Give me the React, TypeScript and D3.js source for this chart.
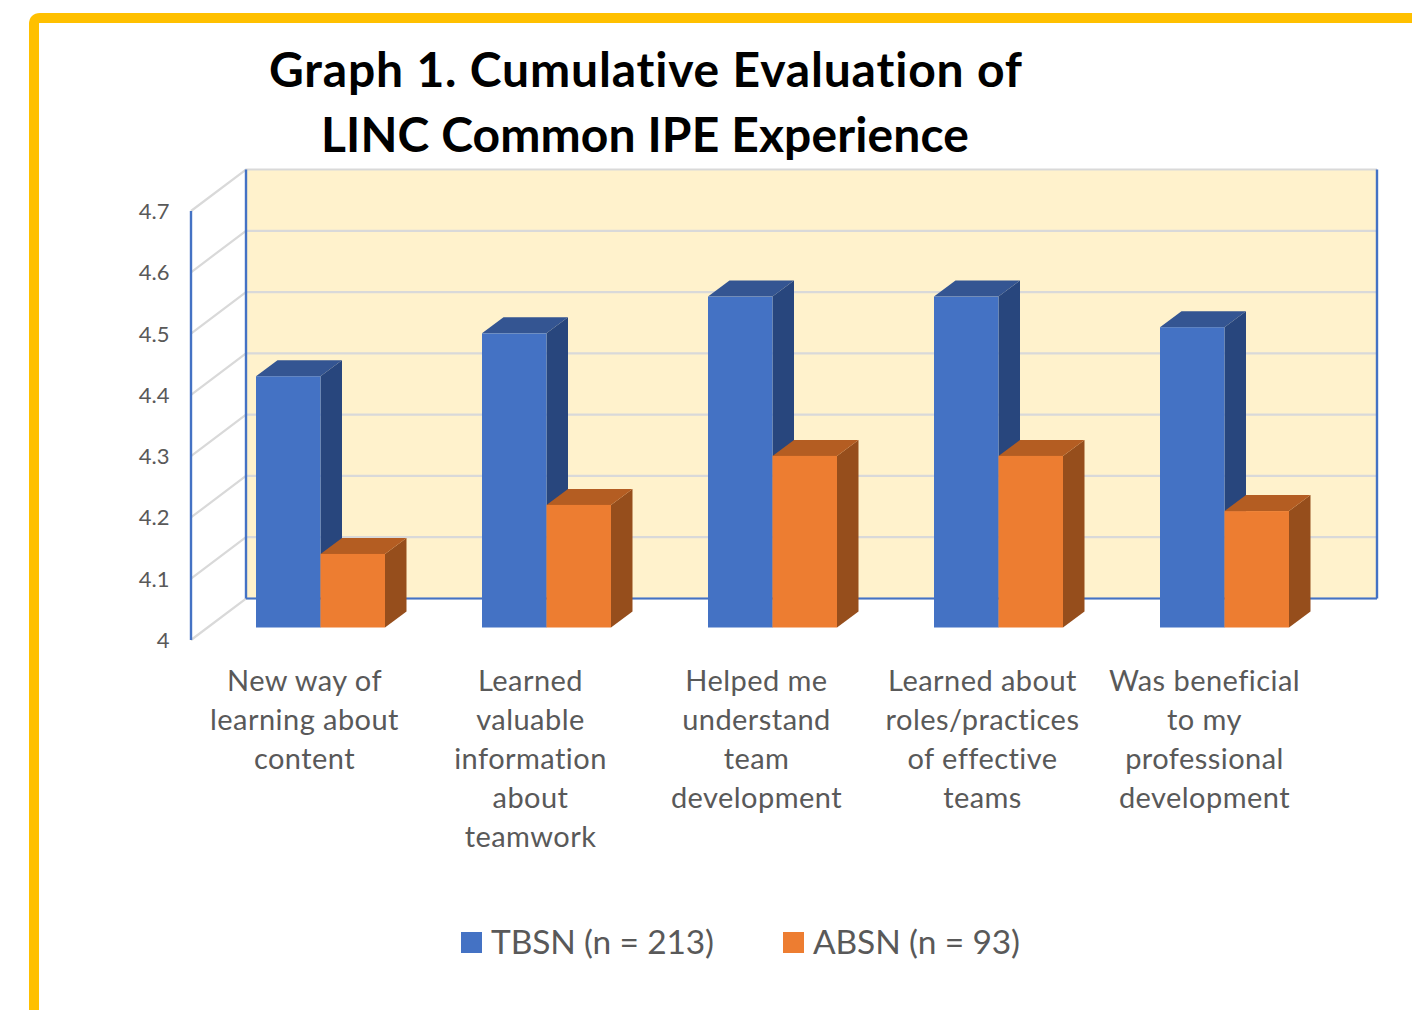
import React from "react";
import * as d3 from "d3";

const titleLines = ["Graph 1. Cumulative Evaluation of", "LINC Common IPE Experience"];
const categories = ["New way of learning", "Learned valuable", "Helped me", "Learned about", "Was beneficial"];
const categoryLabels = [
  ["New way of", "learning about", "content"],
  ["Learned", "valuable", "information", "about", "teamwork"],
  ["Helped me", "understand", "team", "development"],
  ["Learned about", "roles/practices", "of effective", "teams"],
  ["Was beneficial", "to my", "professional", "development"],
];
const labelNudge = [0, 0, 0, 0, -4];
const tbsn = [4.41, 4.48, 4.54, 4.54, 4.49];
const absn = [4.12, 4.2, 4.28, 4.28, 4.19];
const ticks = [4, 4.1, 4.2, 4.3, 4.4, 4.5, 4.6, 4.7];
const seriesNames = ["TBSN (n = 213)", "ABSN (n = 93)"];

const FONT = "Lato, 'Open Sans', sans-serif";
const BLUE = { front: "#4472C4", top: "#345592", side: "#28467D" };
const ORANGE = { front: "#ED7D31", top: "#B45D22", side: "#964E1C" };
const GRID = "#D9D9D9";
const AXIS = "#4472C4";
const TEXT = "#595959";

const y = d3.scaleLinear().domain([4, 4.7]).range([640, 211]);
const DX = 55;
const DY = -41.5;
const RIGHT = 1377;
const band = d3.scaleBand<string>().domain(categories).range([256, 256 + 226 * 5]).paddingInner(0).paddingOuter(0);
const BAR_W = 64.5;
const BAR_DX = 21.5;
const BAR_DY = -16;
const barBase = 627.5;
const barScale = d3.scaleLinear().domain([4, 4.7]).range([barBase, barBase - (y(4) - y(4.7))]);

function Bar({ x, v, c }: { x: number; v: number; c: typeof BLUE }) {
  const t = barScale(v);
  const r = x + BAR_W;
  return (
    <g>
      <path d={`M${r},${t}L${r + BAR_DX},${t + BAR_DY}L${r + BAR_DX},${barBase + BAR_DY}L${r},${barBase}Z`} fill={c.side} />
      <path d={`M${x},${t}L${x + BAR_DX},${t + BAR_DY}L${r + BAR_DX},${t + BAR_DY}L${r},${t}Z`} fill={c.top} />
      <rect x={x} y={t} width={BAR_W} height={barBase - t} fill={c.front} />
    </g>
  );
}

export default function App() {
  return (
    <svg width={1412} height={1010} style={{ position: "absolute", left: 0, top: 0, background: "#fff", fontVariantLigatures: "none" }} fontFamily={FONT}>
      <path d="M34,1010V24Q34,18 40,18H1412" fill="none" stroke="#FFC000" strokeWidth={10} />
      <g fontWeight={700} fontSize={48} fill="#000" textAnchor="middle">
        <text x={645.5} y={87} textLength={753} lengthAdjust="spacing">{titleLines[0]}</text>
        <text x={645} y={152} textLength={648} lengthAdjust="spacing">{titleLines[1]}</text>
      </g>

      <rect x={191 + DX} y={y(4.7) + DY} width={RIGHT - 191 - DX} height={y(4) - y(4.7)} fill="#FFF2CC" />
      {ticks.map((t) => (
        <path key={t} d={`M191,${y(t)}L${191 + DX},${y(t) + DY}H${RIGHT}`} fill="none" stroke={GRID} strokeWidth={2.2} />
      ))}
      <path d={`M${191 + DX},${y(4) + DY}H${RIGHT}`} stroke={AXIS} strokeWidth={2.2} fill="none" />
      <path d={`M191,${y(4.7)}V${y(4)}`} stroke={AXIS} strokeWidth={2.4} fill="none" />
      <path d={`M${191 + DX},${y(4.7) + DY}V${y(4) + DY}`} stroke={AXIS} strokeWidth={2.4} fill="none" />
      <path d={`M${RIGHT},${y(4.7) + DY}V${y(4) + DY}`} stroke={AXIS} strokeWidth={2.4} fill="none" />

      {categories.map((c, i) => {
        const x = band(c)!;
        return (
          <g key={c}>
            <Bar x={x} v={tbsn[i]} c={BLUE} />
            <Bar x={x + BAR_W} v={absn[i]} c={ORANGE} />
          </g>
        );
      })}

      <g fontSize={22} fill={TEXT} textAnchor="end">
        {ticks.map((t) => (
          <text key={t} x={169.5} y={y(t) + 8}>{t === 4 ? "4" : d3.format(".1f")(t)}</text>
        ))}
      </g>

      <g fontSize={29} fill={TEXT} textAnchor="middle" letterSpacing={0.45}>
        {categories.map((c, i) => (
          <text key={c}>
            {categoryLabels[i].map((l, j) => (
              <tspan key={j} x={band(c)! + 48.5 + labelNudge[i]} y={691 + j * 39}>{l}</tspan>
            ))}
          </text>
        ))}
      </g>

      <rect x={461} y={932} width={21} height={21} fill={BLUE.front} />
      <text x={491} y={954} fontSize={33.5} fill={TEXT} textLength={223} lengthAdjust="spacing">{seriesNames[0]}</text>
      <rect x={783} y={932} width={21} height={21} fill={ORANGE.front} />
      <text x={813} y={954} fontSize={33.5} fill={TEXT} textLength={207} lengthAdjust="spacing">{seriesNames[1]}</text>
    </svg>
  );
}
